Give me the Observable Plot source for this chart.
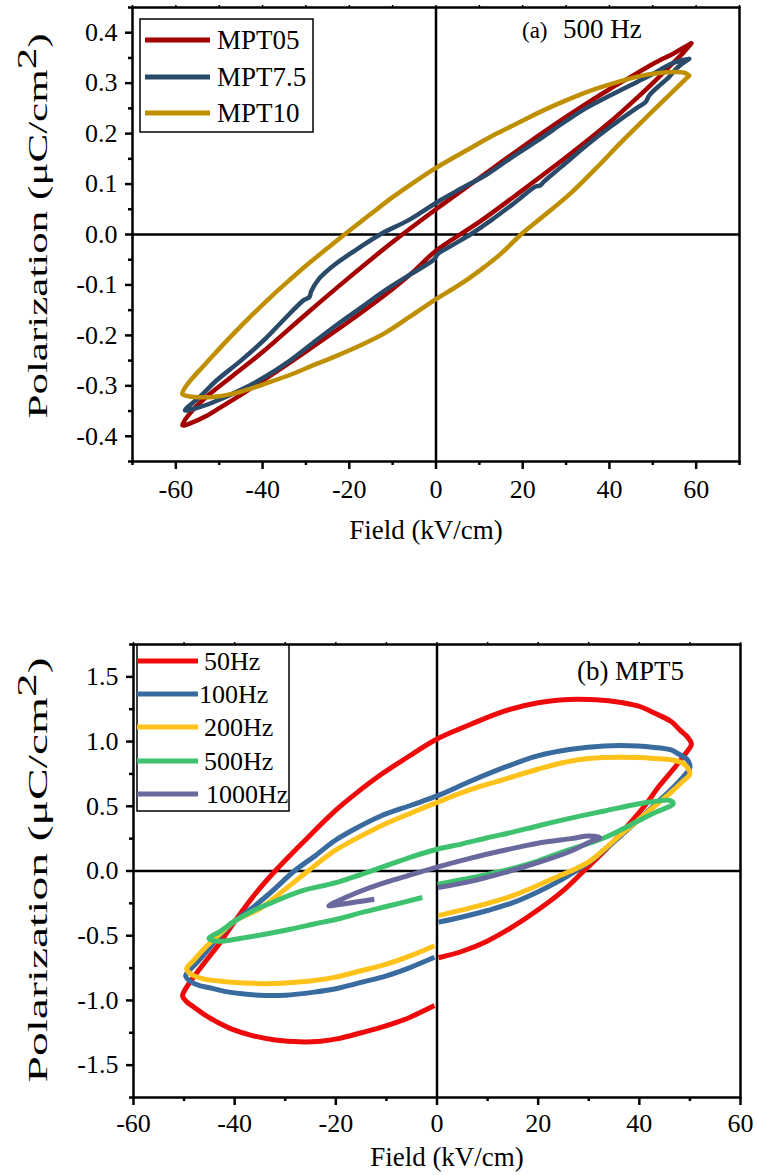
<!DOCTYPE html>
<html>
<head>
<meta charset="utf-8">
<script src="https://cdn.jsdelivr.net/npm/d3@7"></script>
<script src="https://cdn.jsdelivr.net/npm/@observablehq/plot@0.6"></script>
<style>
  body { margin: 0; background: #fff; }
  #chart { width: 757px; }
  #chart svg { display: block; }
  #chart svg, #chart svg text { font-family: "Liberation Serif", "Times New Roman", serif !important; }
</style>
</head>
<body>
<div id="chart"></div>
<script>
// ---------- Panel (a): 500 Hz, three compositions ----------
const seriesA = ["MPT05", "MPT7.5", "MPT10"];
const colorsA = ["#a50000", "#2a4a6a", "#bf8f00"];

// each loop: [Field kV/cm, Polarization µC/cm²], traced upper branch then lower branch
const mpt05Loop = [
  [58.9,0.379],[55,0.36],[50,0.338],[45,0.313],[40,0.288],[30,0.233],[20,0.174],[10,0.112],[0,0.05],
  [-10,-0.015],[-20,-0.085],[-30,-0.158],[-40,-0.233],[-47.3,-0.283],[-52,-0.315],[-56.2,-0.349],[-58.5,-0.378],
  [-56,-0.372],[-53,-0.36],[-50.7,-0.348],[-45,-0.318],[-40,-0.29],[-30,-0.232],[-20,-0.172],[-10,-0.108],
  [-5,-0.072],[0,-0.032],[10,0.025],[20,0.088],[30,0.153],[40,0.222],[46.5,0.272],[50,0.3],[54.1,0.335],[57,0.36],[58.9,0.379]
];
const mpt75Loop = [
  [58.4,0.348],[56.5,0.345],[54.1,0.338],[50,0.318],[46.5,0.303],[40,0.275],[34.9,0.252],[30,0.225],[23.4,0.186],
  [17,0.15],[11.9,0.12],[6,0.092],[0.8,0.067],[-6,0.03],[-12.7,0.001],[-18,-0.028],[-23.4,-0.06],[-27,-0.088],
  [-28.8,-0.113],[-29.2,-0.124],[-30.5,-0.13],[-35,-0.168],[-39.5,-0.208],[-45,-0.25],[-50.7,-0.29],[-54,-0.318],[-57.9,-0.349],
  [-56,-0.346],[-53,-0.338],[-50.7,-0.33],[-45,-0.308],[-40,-0.285],[-34,-0.252],[-28.4,-0.215],[-23,-0.18],
  [-17.3,-0.145],[-12,-0.112],[-6.1,-0.08],[-0.5,-0.05],[0.5,-0.038],[4,-0.02],[8.1,0.001],[13,0.03],[18,0.062],
  [23,0.095],[24,0.097],[25,0.106],[29,0.135],[34.9,0.178],[40,0.212],[46.5,0.252],[48.3,0.262],[49.2,0.276],
  [51.9,0.298],[53.5,0.31],[55.7,0.331],[58.4,0.348]
];
const mpt10Loop = [
  [58.4,0.315],[57.5,0.32],[55.7,0.322],[51.5,0.32],[47,0.314],[42.6,0.304],[37,0.289],[31.1,0.27],[25,0.247],
  [19.6,0.224],[14,0.2],[8.1,0.172],[0,0.132],[-5,0.104],[-10,0.074],[-15,0.041],[-21.1,0],[-25,-0.027],[-30,-0.062],
  [-34,-0.092],[-38,-0.123],[-42,-0.156],[-47.3,-0.202],[-51,-0.236],[-54,-0.264],[-56.2,-0.285],[-57.6,-0.3],[-58.5,-0.316],
  [-57.5,-0.32],[-55.7,-0.322],[-51.5,-0.322],[-47,-0.316],[-42.6,-0.305],[-39.5,-0.296],[-33,-0.276],[-28,-0.258],
  [-22.8,-0.24],[-17,-0.218],[-11.7,-0.195],[-6,-0.163],[0,-0.128],[5,-0.102],[10,-0.072],[15,-0.038],[19.6,0],
  [25,0.038],[31.1,0.082],[37,0.132],[42.6,0.182],[48,0.228],[54.1,0.279],[58.4,0.315]
];
const loopsA = [mpt05Loop, mpt75Loop, mpt10Loop];

const yTicksA = [-0.4,-0.3,-0.2,-0.1,0,0.1,0.2,0.3,0.4];
const yMinorA = [-0.45,-0.35,-0.25,-0.15,-0.05,0.05,0.15,0.25,0.35,0.45];
const xTicksA = [-60,-40,-20,0,20,40,60];
const xMinorA = [-70,-50,-30,-10,10,30,50,70];

// ---------- Panel (b): MPT5 at five frequencies ----------
const seriesB = ["50Hz", "100Hz", "200Hz", "500Hz", "1000Hz"];
const colorsB = ["#ee0a0a", "#3a6b9f", "#ffc21a", "#3fc26f", "#6a699d"];

// traced: lower-right branch (from E=0) -> right tip -> upper branch -> left tip -> lower-left branch (to E~0)
const hz50 = [
  [0.3,-0.67],[5,-0.62],[10,-0.54],[15,-0.43],[20,-0.3],[25,-0.15],[29,0],[33,0.15],[37,0.32],[41,0.5],[44,0.66],
  [47,0.8],[49,0.9],[50.3,0.98],[49.8,1.02],[49.3,1.045],[48,1.09],[46.3,1.155],[43,1.22],[39.7,1.275],[35,1.31],
  [30,1.325],[26,1.325],[20,1.3],[13.3,1.236],[6.7,1.134],[0,1.02],[-5,0.9],[-11,0.747],[-16,0.6],[-20,0.47],
  [-26,0.24],[-32,0],[-36,-0.18],[-40,-0.39],[-43,-0.56],[-46.2,-0.72],[-48.5,-0.84],[-50,-0.93],[-50.3,-0.965],
  [-49.5,-1.01],[-48.1,-1.05],[-46,-1.11],[-43.3,-1.17],[-40,-1.23],[-36.7,-1.27],[-32,-1.305],[-27.1,-1.32],
  [-23,-1.315],[-19.5,-1.295],[-15,-1.25],[-11.9,-1.218],[-8,-1.17],[-5.2,-1.128],[-0.5,-1.04]
];
const hz100 = [
  [0.3,-0.395],[5,-0.355],[10,-0.305],[15,-0.245],[20,-0.16],[24,-0.08],[27,-0.01],[30,0.065],[33,0.16],[36,0.26],
  [39.7,0.39],[43,0.51],[46.3,0.63],[48.5,0.72],[50,0.8],[49.5,0.86],[49,0.876],[47.5,0.91],[46.3,0.935],[43,0.955],
  [39.7,0.966],[33.1,0.966],[26.5,0.94],[19.9,0.889],[13.3,0.8],[6.7,0.695],[0,0.58],[-5,0.51],[-11.1,0.425],
  [-16,0.33],[-20.3,0.232],[-24,0.12],[-28.2,0],[-33,-0.17],[-37,-0.3],[-40.1,-0.39],[-43,-0.5],[-45.5,-0.62],
  [-47.5,-0.71],[-49,-0.77],[-49.7,-0.81],[-48.5,-0.86],[-47,-0.885],[-45.2,-0.9],[-42,-0.93],[-38.6,-0.949],
  [-34,-0.962],[-30,-0.96],[-24.3,-0.936],[-20,-0.91],[-14.8,-0.859],[-10,-0.81],[-5.2,-0.744],[-0.5,-0.667]
];
const hz200 = [
  [0.3,-0.345],[5,-0.3],[10,-0.25],[15,-0.19],[20,-0.11],[24,-0.04],[26.5,0],[30,0.07],[33,0.165],[36,0.27],
  [39.7,0.39],[43,0.5],[46.3,0.61],[48.5,0.69],[50,0.75],[49.5,0.8],[48.5,0.835],[46.3,0.86],[43,0.87],[39.7,0.876],
  [33.1,0.876],[26.5,0.85],[19.9,0.786],[13.3,0.708],[6.7,0.63],[0,0.53],[-5,0.45],[-11.1,0.348],[-16,0.25],
  [-20.3,0.155],[-25.5,0],[-30,-0.14],[-35,-0.29],[-40.1,-0.39],[-43,-0.49],[-45.5,-0.58],[-48.1,-0.69],[-49.5,-0.756],
  [-48.5,-0.8],[-46.2,-0.833],[-43,-0.85],[-40.5,-0.859],[-36,-0.868],[-32.9,-0.87],[-28,-0.86],[-24.3,-0.846],
  [-20,-0.82],[-14.8,-0.769],[-10,-0.72],[-5.2,-0.654],[-0.5,-0.577]
];
const hz500 = [
  [0.1,-0.103],[5,-0.065],[10,-0.026],[15,0.02],[19.9,0.077],[25,0.15],[29,0.2],[33.1,0.257],[36.5,0.32],[39.7,0.386],
  [43,0.45],[46.7,0.52],[46,0.545],[43.7,0.541],[40,0.52],[33.1,0.464],[26,0.405],[19.9,0.348],[15,0.3],[10,0.257],
  [5,0.21],[0,0.168],[-5,0.11],[-11.1,0.026],[-20,-0.09],[-26.9,-0.155],[-33,-0.25],[-37,-0.32],[-40.1,-0.39],
  [-43,-0.47],[-45.1,-0.52],[-44.3,-0.538],[-42,-0.54],[-38,-0.515],[-33.8,-0.487],[-29,-0.45],[-24.3,-0.41],
  [-19,-0.365],[-14.8,-0.32],[-9,-0.265],[-2.9,-0.205]
];
const hz1000 = [
  [0.2,-0.128],[6.7,-0.08],[13.3,-0.013],[19.9,0.064],[26.5,0.155],[30,0.22],[32.2,0.257],[30,0.27],[26.5,0.25],
  [19.9,0.215],[13.3,0.16],[6.7,0.1],[0,0.03],[-6,-0.04],[-11.1,-0.1],[-16,-0.17],[-19.5,-0.23],[-21.4,-0.269],
  [-20,-0.262],[-16,-0.24],[-12.4,-0.218]
];
const loopsB = [hz50, hz100, hz200, hz500, hz1000];

const yTicksB = [-1.5,-1.0,-0.5,0,0.5,1.0,1.5];
const yMinorB = [-1.75,-1.25,-0.75,-0.25,0.25,0.75,1.25,1.75];
const xTicksB = [-60,-40,-20,0,20,40,60];
const xMinorB = [-50,-30,-10,10,30,50];

// ---------- helpers ----------
const FONT = "Liberation Serif";
const rowsOf = (loops, names) => loops.flatMap((loop, i) =>
  loop.map(([E, P], k) => ({E, P, series: names[i], k})));

function axes(yMajor, yMinor, xMajor, xMinor, xPad) {
  return [
    Plot.axisY(yMajor, {tickSize: 7, tickPadding: 8, strokeWidth: 2.5, fontFamily: FONT, tickFormat: d => d.toFixed(1), label: null}),
    Plot.axisY(yMinor, {tickSize: 4, strokeWidth: 2.5, tickFormat: () => "", label: null}),
    Plot.axisX(xMajor, {tickSize: 8, tickPadding: xPad, strokeWidth: 2.5, fontFamily: FONT, tickFormat: d => String(d), label: null}),
    Plot.axisX(xMinor, {tickSize: 4, strokeWidth: 2.5, tickFormat: () => "", label: null}),
    Plot.axisX(xMajor.concat(xMinor), {anchor: "top", tickSize: 3, strokeWidth: 1.5, tickFormat: () => "", label: null})
  ];
}

function addText(svg, x, y, parts, size, opts = {}) {
  const t = d3.select(svg).append("text")
    .attr("x", x).attr("y", y)
    .attr("font-family", FONT).attr("font-size", size)
    .attr("fill", "black")
    .attr("text-anchor", opts.anchor || "start");
  if (opts.rotate) t.attr("transform", `rotate(-90 ${x} ${y})`);
  if (opts.length) t.attr("textLength", opts.length).attr("lengthAdjust", "spacingAndGlyphs");
  for (const p of parts) {
    const s = t.append("tspan").text(p.text);
    if (p.dy) s.attr("dy", p.dy);
  }
  return t;
}

function addLegend(svg, box, items, colors, lineX, ys, textXs, size, lw) {
  const g = d3.select(svg).append("g");
  g.append("rect").attr("x", box[0]).attr("y", box[1]).attr("width", box[2]).attr("height", box[3])
    .attr("fill", "white").attr("stroke", "black").attr("stroke-width", 1.5);
  items.forEach((name, i) => {
    g.append("line").attr("x1", lineX[0]).attr("x2", lineX[1]).attr("y1", ys[i]).attr("y2", ys[i])
      .attr("stroke", colors[i]).attr("stroke-width", lw);
    g.append("text").attr("x", textXs[i]).attr("y", ys[i] + size * 0.34)
      .attr("text-anchor", "start")
      .attr("font-family", FONT).attr("font-size", size).attr("fill", "black").text(name);
  });
}

const root = document.getElementById("chart");

// ---------- Plot (a) ----------
const rowsA = rowsOf(loopsA, seriesA);
const plotA = Plot.plot({
  width: 757, height: 546,
  marginLeft: 132, marginRight: 18, marginTop: 7, marginBottom: 85,
  x: {domain: [-70, 70]},
  y: {domain: [-0.45, 0.45]},
  color: {domain: seriesA, range: colorsA},
  style: {fontFamily: FONT, fontSize: "26px", color: "black", background: "white", overflow: "visible"},
  marks: [
    Plot.ruleY([0], {stroke: "black", strokeWidth: 2.5}),
    Plot.ruleX([0], {stroke: "black", strokeWidth: 2.5}),
    Plot.line(rowsA, {x: "E", y: "P", z: "series", stroke: "series", strokeWidth: 4.5,
      curve: "catmull-rom", strokeLinejoin: "round", strokeLinecap: "round"}),
    Plot.frame({stroke: "black", strokeWidth: 2.5}),
    ...axes(yTicksA, yMinorA, xTicksA, xMinorA, 10)
  ]
});
addLegend(plotA, [140, 19, 173, 113], seriesA, colorsA, [145, 210], [40, 77, 113], [217, 217, 217], 27, 5);
addText(plotA, 522, 38, [{text: "(a)"}], 23);
addText(plotA, 563, 38, [{text: "500 Hz"}], 27);
addText(plotA, 426, 539, [{text: "Field (kV/cm)"}], 27, {anchor: "middle"});
addText(plotA, 47, 226, [{text: "Polarization (μC/cm"}, {text: "2", dy: "-0.4em"}, {text: ")", dy: "0.4em"}], 27,
  {anchor: "middle", rotate: true, length: 385});
root.appendChild(plotA);

// ---------- Plot (b) ----------
const rowsB = rowsOf(loopsB, seriesB);
const plotB = Plot.plot({
  width: 757, height: 629,
  marginLeft: 133, marginRight: 17, marginTop: 98, marginBottom: 78,
  x: {domain: [-60, 60]},
  y: {domain: [-1.75, 1.75]},
  color: {domain: seriesB, range: colorsB},
  style: {fontFamily: FONT, fontSize: "26px", color: "black", background: "white", overflow: "visible"},
  marks: [
    Plot.ruleY([0], {stroke: "black", strokeWidth: 2.5}),
    Plot.ruleX([0], {stroke: "black", strokeWidth: 2.5}),
    Plot.line(rowsB, {x: "E", y: "P", z: "series", stroke: "series", strokeWidth: 5,
      curve: "catmull-rom", strokeLinejoin: "round", strokeLinecap: "butt"}),
    Plot.frame({stroke: "black", strokeWidth: 2.5}),
    ...axes(yTicksB, yMinorB, xTicksB, xMinorB, 8)
  ]
});
addLegend(plotB, [137, 99, 152, 166], seriesB, colorsB, [137, 198], [115, 148, 181, 215, 248],
  [204, 199, 204, 204, 206], 26, 5);
addText(plotB, 577, 134, [{text: "(b)"}], 27);
addText(plotB, 615, 134, [{text: "MPT5"}], 27);
addText(plotB, 447, 620, [{text: "Field (kV/cm)"}], 27, {anchor: "middle"});
addText(plotB, 47, 324, [{text: "Polarization (μC/cm"}, {text: "2", dy: "-0.4em"}, {text: ")", dy: "0.4em"}], 27,
  {anchor: "middle", rotate: true, length: 425});
root.appendChild(plotB);
</script>
</body>
</html>
